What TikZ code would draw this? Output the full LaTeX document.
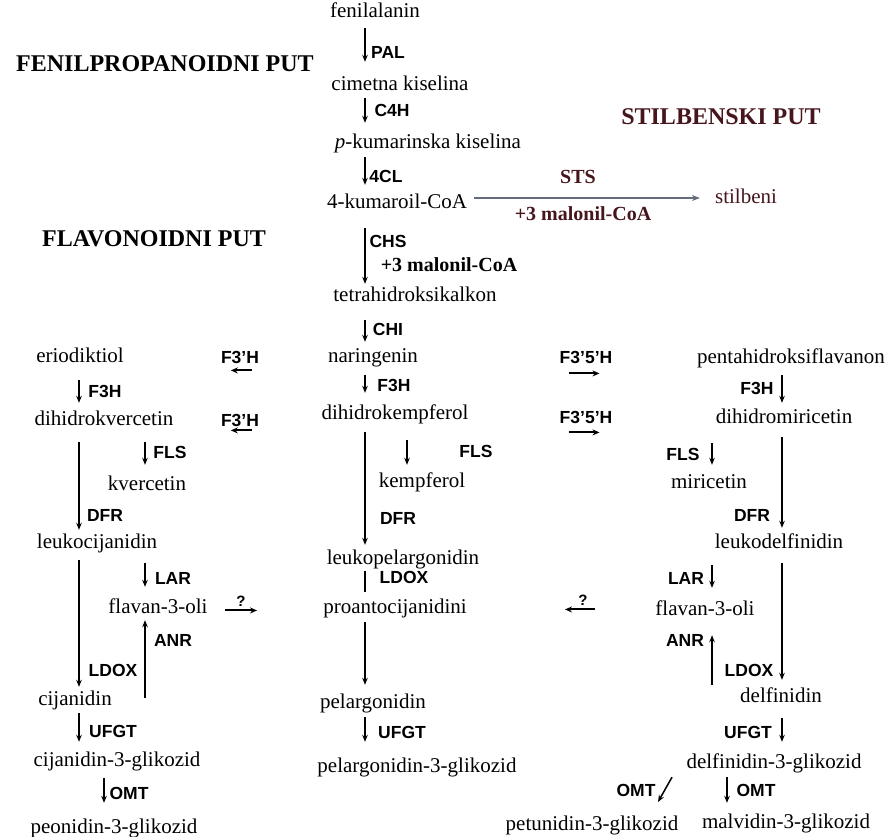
\documentclass[tikz,border=0pt]{standalone}
\usepackage{fontspec}
\setmainfont{Liberation Serif}
\setsansfont{Liberation Sans}
\usetikzlibrary{arrows.meta}
\definecolor{stilbred}{RGB}{70,22,28}
\definecolor{stsgray}{RGB}{100,110,122}

\begin{document}
\begin{tikzpicture}[x=1pt,y=-1pt,
  met/.style={font=\fontsize{21}{24}\selectfont,inner sep=0pt,text height=14pt,text depth=4pt},
  enz/.style={font=\sffamily\bfseries\fontsize{17.5}{20}\selectfont,inner sep=0pt},
  head/.style={font=\bfseries\fontsize{24}{28}\selectfont,inner sep=0pt},
  mal/.style={font=\bfseries\fontsize{20}{24}\selectfont,inner sep=0pt},
  arr/.style={line width=1.5pt,-{Stealth[length=7pt,width=5.5pt]},shorten <=6pt,shorten >=9pt},
  harr/.style={line width=2pt,-{Stealth[length=7pt,width=6pt]}},
  stsarr/.style={line width=1.1pt,draw=stsgray,-{Stealth[length=8pt,width=6pt]}}]
\useasboundingbox (0,0) rectangle (891,836);

\node[head] (fenput) at (165,64) {FENILPROPANOIDNI PUT};
\node[head] (flavput) at (154,239) {FLAVONOIDNI PUT};
\node[head,text=stilbred] (stilbput) at (721,117) {STILBENSKI PUT};

\node[met] (fen) at (375,12) {fenilalanin};
\node[met] (cim) at (400,85) {cimetna kiselina};
\node[met] (pkum) at (428,143) {\textit{p}-kumarinska kiselina};
\node[met] (kum) at (397,203) {4-kumaroil-CoA};
\node[met,text=stilbred] (stilb) at (746,198) {stilbeni};
\node[met] (tetra) at (415,296) {tetrahidroksikalkon};
\node[met] (nar) at (373,357) {naringenin};
\node[met] (dhk) at (395,414) {dihidrokempferol};
\node[met] (kemp) at (422,482) {kempferol};
\node[met] (leukp) at (403,559) {leukopelargonidin};
\node[met] (proant) at (395,608) {proantocijanidini};
\node[met] (pelarg) at (373,703) {pelargonidin};
\node[met] (pelarg3g) at (417,767) {pelargonidin-3-glikozid};

\node[met] (erio) at (80,357) {eriodiktiol};
\node[met] (dhq) at (104,420) {dihidrokvercetin};
\node[met] (kverc) at (147,485) {kvercetin};
\node[met] (leukc) at (97,543) {leukocijanidin};
\node[met] (flavl) at (158,608) {flavan-3-oli};
\node[met] (cij) at (75,700) {cijanidin};
\node[met] (cij3g) at (117,761) {cijanidin-3-glikozid};
\node[met] (peon) at (114,828) {peonidin-3-glikozid};

\node[met] (penta) at (791,358) {pentahidroksiflavanon};
\node[met] (dhm) at (784,418) {dihidromiricetin};
\node[met] (mir) at (709,483) {miricetin};
\node[met] (leukd) at (779,543) {leukodelfinidin};
\node[met] (flavr) at (705,610) {flavan-3-oli};
\node[met] (delf) at (781,697) {delfinidin};
\node[met] (delf3g) at (774,763) {delfinidin-3-glikozid};
\node[met] (petun) at (592,825) {petunidin-3-glikozid};
\node[met] (malv) at (786,823) {malvidin-3-glikozid};

\coordinate (cC) at (365,0);
\coordinate (cCf) at (407,0);
\coordinate (cL) at (79,0);
\coordinate (cLf) at (145,0);
\coordinate (cLo) at (104,0);
\coordinate (cR) at (782,0);
\coordinate (cRf) at (712,0);
\coordinate (cRo) at (727,0);
\coordinate (omtend) at (658,802);

\draw[arr,shorten <=7pt,shorten >=14pt] (fen.south -| cC) -- (cim.north -| cC);
\draw[arr,shorten <=4pt,shorten >=11pt] (cim.south -| cC) -- (pkum.north -| cC);
\draw[arr,shorten <=5pt,shorten >=9pt] (pkum.south -| cC) -- (kum.north -| cC);
\draw[arr,line width=1.1pt,shorten <=16pt,shorten >=3pt] (kum.south -| cC) -- (tetra.north -| cC);
\draw[arr,shorten <=15pt,shorten >=6pt] (tetra.south -| cC) -- (nar.north -| cC);
\draw[arr,shorten <=9pt,shorten >=12pt] (nar.south -| cC) -- (dhk.north -| cC);
\draw[arr,line width=1.2pt,shorten <=9pt,shorten >=5pt] (dhk.south -| cC) -- (leukp.north -| cC);
\draw[arr,shorten <=17pt,shorten >=8pt] (dhk.south -| cCf) -- (kemp.north -| cCf);
\draw[line width=1.5pt,shorten <=3pt,shorten >=7pt] (leukp.south -| cC) -- (proant.north -| cC);
\draw[arr,line width=1.2pt,shorten <=5pt,shorten >=9pt] (proant.south -| cC) -- (pelarg.north -| cC);
\draw[arr,shorten <=5pt,shorten >=16pt] (pelarg.south -| cC) -- (pelarg3g.north -| cC);

\draw[arr,shorten <=14pt,shorten >=8pt] (erio.south -| cL) -- (dhq.north -| cL);
\draw[arr,shorten <=13pt,shorten >=4pt] (dhq.south -| cL) -- (leukc.north -| cL);
\draw[arr,shorten <=13pt,shorten >=11pt] (dhq.south -| cLf) -- (kverc.north -| cLf);
\draw[arr,shorten <=8pt,shorten >=4pt] (leukc.south -| cL) -- (cij.north -| cL);
\draw[arr,shorten <=11pt,shorten >=12pt] (leukc.south -| cLf) -- (flavl.north -| cLf);
\draw[arr,shorten <=2pt,shorten >=3pt] (cij.center -| cLf) -- (flavl.south -| cLf);
\draw[arr,shorten <=4pt,shorten >=10pt] (cij.south -| cL) -- (cij3g.north -| cL);
\draw[arr,shorten <=8pt,shorten >=16pt] (cij3g.south -| cLo) -- (peon.north -| cLo);

\draw[arr,shorten <=8pt,shorten >=6pt] (penta.south -| cR) -- (dhm.north -| cR);
\draw[arr,shorten <=10pt,shorten >=6pt] (dhm.south -| cR) -- (leukd.north -| cR);
\draw[arr,shorten <=16pt,shorten >=9pt] (dhm.south -| cRf) -- (mir.north -| cRf);
\draw[arr,shorten <=11pt,shorten >=8pt] (leukd.south -| cR) -- (delf.north -| cR);
\draw[arr,shorten <=13pt,shorten >=13pt] (leukd.south -| cRf) -- (flavr.north -| cRf);
\draw[arr,shorten <=12pt,shorten >=16pt] (delf.center -| cRf) -- (flavr.south -| cRf);
\draw[arr,shorten <=12pt,shorten >=12pt] (delf.south -| cR) -- (delf3g.north -| cR);
\draw[arr,shorten <=5pt,shorten >=11pt] (delf3g.south -| cRo) -- (malv.north -| cRo);
\draw[arr,shorten <=0pt,shorten >=0pt] ([xshift=-102pt,yshift=-5pt]delf3g.south) -- (omtend);

\draw[stsarr,shorten <=7pt,shorten >=15pt] (kum.east |- stilb.west) -- (stilb.west);
\node[mal,text=stilbred] (sts) at (578,177) {STS};
\node[mal,text=stilbred] (malsts) at (583,214) {+3 malonil-CoA};
\node[mal] (malchs) at (449,265) {+3 malonil-CoA};

\node[enz] (pal) at (388,52) {PAL};
\node[enz] (c4h) at (392,110) {C4H};
\node[enz] (fcl) at (386,176) {4CL};
\node[enz] (chs) at (388,241) {CHS};
\node[enz] (chi) at (388,329) {CHI};
\node[enz] (f3hc) at (394,385) {F3H};
\node[enz] (flsc) at (476,451) {FLS};
\node[enz] (dfrc) at (398,518) {DFR};
\node[enz] (ldoxc) at (404,577) {LDOX};
\node[enz] (ufgtc) at (402,732) {UFGT};

\node[enz] (f3hl) at (105,391) {F3H};
\node[enz] (flsl) at (170,452) {FLS};
\node[enz] (dfrl) at (105,515) {DFR};
\node[enz] (larl) at (173,578) {LAR};
\node[enz] (anrl) at (173,640) {ANR};
\node[enz] (ldoxl) at (113,670) {LDOX};
\node[enz] (ufgtl) at (113,731) {UFGT};
\node[enz] (omtl) at (129,793) {OMT};

\node[enz] (f3hr) at (757,388) {F3H};
\node[enz] (flsr) at (683,454) {FLS};
\node[enz] (dfrr) at (752,515) {DFR};
\node[enz] (larr) at (686,578) {LAR};
\node[enz] (anrr) at (685,640) {ANR};
\node[enz] (ldoxr) at (749,670) {LDOX};
\node[enz] (ufgtr) at (748,732) {UFGT};
\node[enz] (omtp) at (636,790) {OMT};
\node[enz] (omtm) at (756,790) {OMT};

\node[enz] (f3pa) at (240,357) {F3'H};
\node[enz] (f3pb) at (240,420) {F3'H};
\node[enz] (f35a) at (586,357) {F3'5'H};
\node[enz] (f35b) at (586,417) {F3'5'H};
\draw[harr] ([xshift=-7pt,yshift=-7pt]f3pa.south east) -- ([xshift=10pt,yshift=-7pt]f3pa.south west);
\draw[harr] ([xshift=-7pt,yshift=-4pt]f3pb.south east) -- ([xshift=10pt,yshift=-4pt]f3pb.south west);
\draw[harr] ([xshift=9pt,yshift=-10pt]f35a.south west) -- ([xshift=-13pt,yshift=-10pt]f35a.south east);
\draw[harr] ([xshift=9pt,yshift=-9pt]f35b.south west) -- ([xshift=-13pt,yshift=-9pt]f35b.south east);

\node[enz,font=\sffamily\bfseries\fontsize{15}{18}\selectfont] (qa) at (241,601) {?};
\node[enz,font=\sffamily\bfseries\fontsize{15}{18}\selectfont] (qb) at (583,600) {?};
\draw[harr] ([xshift=-16pt,yshift=-4pt]qa.south) -- ([xshift=16pt,yshift=-4pt]qa.south);
\draw[harr] ([xshift=12pt,yshift=-4pt]qb.south) -- ([xshift=-18pt,yshift=-4pt]qb.south);
\end{tikzpicture}
\end{document}
